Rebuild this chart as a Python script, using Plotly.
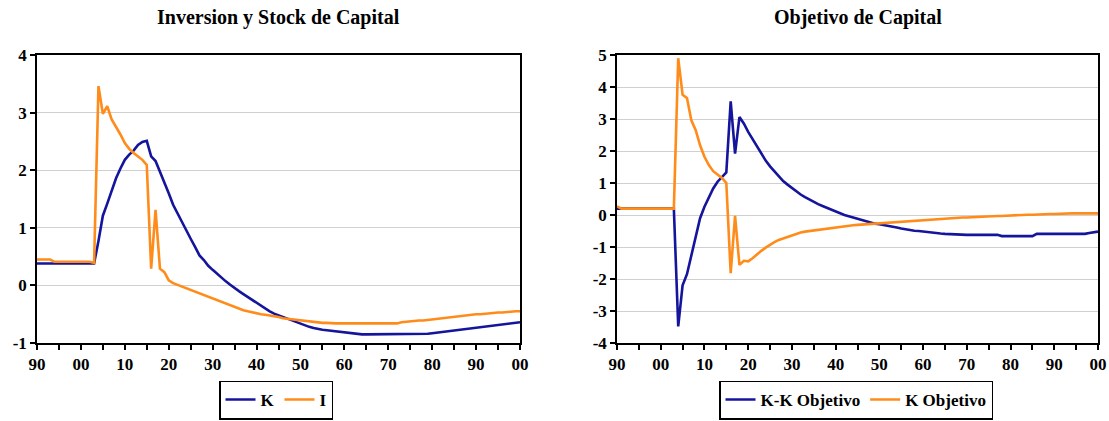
import plotly.graph_objects as go

years = list(range(1990, 2101))

# Left panel: Inversion y Stock de Capital
K = [0.38]*14 + [
    0.77, 1.21, 1.42, 1.66, 1.86, 2.03, 2.18, 2.27, 2.34, 2.44, 2.49,   # 2004-2014
    2.51, 2.24, 2.16, 1.98, 1.80, 1.60, 1.40, 1.25, 1.10, 0.94,         # 2015-2024
    0.81, 0.67, 0.52, 0.44, 0.34, 0.27, 0.20, 0.14, 0.07, 0.01,         # 2025-2034
    -0.05, -0.10, -0.15, -0.20, -0.26, -0.31, -0.35, -0.40, -0.45, -0.49,  # 2035-2044
    -0.52, -0.55, -0.58, -0.61, -0.64, -0.67, -0.70, -0.72, -0.74, -0.76,  # 2045-2054
    -0.77, -0.78, -0.79, -0.80, -0.81, -0.82, -0.83, -0.84,               # 2055-2062
] + [-0.85]*16 + [
    -0.84, -0.83, -0.82, -0.81, -0.80, -0.79, -0.78, -0.77, -0.77, -0.76,  # 2079-2088
    -0.75, -0.74, -0.73, -0.72, -0.71, -0.70, -0.69, -0.68, -0.67, -0.66,  # 2089-2098
    -0.65, -0.64,
]
I = [0.45]*4 + [0.41]*9 + [0.39] + [
    3.46, 2.98, 3.11, 2.88, 2.76, 2.62, 2.47, 2.37, 2.30, 2.24, 2.18,   # 2004-2014
    2.09, 0.29, 1.31, 0.29, 0.23, 0.09, 0.04, 0.01, -0.02, -0.05,       # 2015-2024
    -0.08, -0.11, -0.14, -0.17, -0.20, -0.23, -0.26, -0.29, -0.32, -0.35,  # 2025-2034
    -0.38, -0.40, -0.43, -0.45, -0.47, -0.49, -0.50, -0.51, -0.52, -0.54,  # 2035-2044
    -0.55, -0.57, -0.58, -0.59, -0.60, -0.61, -0.62, -0.63, -0.63, -0.64,  # 2045-2054
    -0.65, -0.65,                                                         # 2055-2056
] + [-0.66]*16 + [
    -0.64, -0.63, -0.63, -0.62, -0.61, -0.61, -0.60, -0.59, -0.58, -0.57,  # 2073-2082
    -0.56, -0.55, -0.54, -0.53, -0.52, -0.52, -0.51, -0.50, -0.50, -0.49,  # 2083-2092
    -0.48, -0.48, -0.47, -0.47, -0.46, -0.46, -0.45, -0.45,
]

# Right panel: Objetivo de Capital
KK_obj = [0.2]*14 + [
    -3.48, -2.20, -1.85, -1.25, -0.67, -0.10, 0.26, 0.57, 0.83, 1.04, 1.19,  # 2004-2014
    1.33, 3.55, 1.92, 3.06, 2.86, 2.60, 2.37, 2.13, 1.90, 1.70,             # 2015-2024
    1.52, 1.36, 1.20, 1.06, 0.95, 0.84, 0.74, 0.64, 0.56, 0.48,             # 2025-2034
    0.41, 0.34, 0.28, 0.22, 0.16, 0.10, 0.05, 0.00, -0.04, -0.08,           # 2035-2044
    -0.13, -0.17, -0.20, -0.24, -0.27, -0.29, -0.31, -0.34, -0.36, -0.39,   # 2045-2054
    -0.42, -0.45, -0.47, -0.49, -0.50, -0.52, -0.53, -0.55, -0.56, -0.58,   # 2055-2064
    -0.59, -0.60, -0.61,                                                    # 2065-2067
] + [-0.62]*10 + [-0.66]*8 + [-0.59]*12 + [-0.56, -0.54, -0.52]
K_obj = [0.27] + [0.2]*13 + [
    4.90, 3.76, 3.66, 2.96, 2.65, 2.18, 1.82, 1.56, 1.37, 1.25, 1.16,       # 2004-2014
    1.00, -1.82, -0.03, -1.56, -1.43, -1.45, -1.35, -1.22, -1.12, -1.02,    # 2015-2024
    -0.93, -0.85, -0.78, -0.73, -0.68, -0.63, -0.59, -0.55, -0.52, -0.50,   # 2025-2034
    -0.48, -0.46, -0.44, -0.42, -0.40, -0.38, -0.36, -0.35, -0.34, -0.32,   # 2035-2044
    -0.31, -0.30, -0.29, -0.28, -0.27, -0.26, -0.25, -0.23, -0.22, -0.21,   # 2045-2054
    -0.20, -0.19, -0.18, -0.17, -0.17, -0.16, -0.15, -0.14, -0.13, -0.12,   # 2055-2064
    -0.11, -0.11, -0.10, -0.09, -0.08, -0.08, -0.07, -0.06, -0.06, -0.05,   # 2065-2074
    -0.05, -0.04, -0.03, -0.03, -0.02, -0.01, -0.01, 0.00, 0.00, 0.01,      # 2075-2084
    0.01, 0.02, 0.02, 0.02, 0.03, 0.03, 0.04,                               # 2085-2091
] + [0.05]*9

x_tickvals = list(range(1990, 2101, 10))
x_ticktext = ["90", "00", "10", "20", "30", "40", "50", "60", "70", "80", "90", "00"]
left_yvals = [-1, 0, 1, 2, 3, 4]
left_ytext = ["-1", "0", "1", "2", "3", "4"]
right_yvals = [-4, -3, -2, -1, 0, 1, 2, 3, 4, 5]
right_ytext = ["-4", "-3", "-2", "-1", "0", "1", "2", "3", "4", "5"]

BLUE = "#14149c"
ORANGE = "#ff8c1a"
FONT = "Liberation Serif"
W, H = 1109, 421

fig = go.Figure()
fig.add_trace(go.Scatter(x=years, y=K, name="K", mode="lines",
                         line=dict(color=BLUE, width=2.6), xaxis="x", yaxis="y", legend="legend"))
fig.add_trace(go.Scatter(x=years, y=I, name="I", mode="lines",
                         line=dict(color=ORANGE, width=2.6), xaxis="x", yaxis="y", legend="legend"))
fig.add_trace(go.Scatter(x=years, y=KK_obj, name="K-K Objetivo", mode="lines",
                         line=dict(color=BLUE, width=2.6), xaxis="x2", yaxis="y2", legend="legend2"))
fig.add_trace(go.Scatter(x=years, y=K_obj, name="K Objetivo", mode="lines",
                         line=dict(color=ORANGE, width=2.6), xaxis="x2", yaxis="y2", legend="legend2"))

tickfont = dict(family=FONT, size=17, color="black", weight="bold")

def xaxis(domain, anchor):
    return dict(domain=domain, anchor=anchor, range=[1990, 2100], automargin=False,
                tickvals=x_tickvals, ticktext=x_ticktext, ticks="outside", ticklen=5,
                tickcolor="black", tickwidth=1.5,
                minor=dict(dtick=5, tick0=1990, ticks="outside", ticklen=5, tickcolor="black", tickwidth=1.5),
                showgrid=False, zeroline=False, showline=True, linecolor="black", linewidth=1.5,
                mirror=True, tickfont=tickfont, fixedrange=True)

def yaxis(domain, anchor, rng, vals, text):
    return dict(domain=domain, anchor=anchor, range=rng, tickvals=vals, ticktext=text,
                automargin=False,
                ticks="outside", ticklen=5, tickcolor="black", tickwidth=1.5,
                showgrid=True, gridcolor="#d0d0d0", gridwidth=1, zeroline=False,
                showline=True, linecolor="black", linewidth=1.5, mirror=True,
                tickfont=tickfont, fixedrange=True)

ydom = [(H - 343) / H, (H - 55) / H]
xdom1 = [37 / W, 520 / W]
xdom2 = [617 / W, 1098 / W]

legfont = dict(family=FONT, size=17, color="black", weight="bold")
titlefont = dict(family=FONT, size=20, color="black", weight="bold")
fig.update_layout(
    width=W, height=H,
    margin=dict(l=0, r=0, t=0, b=0, autoexpand=False),
    paper_bgcolor="white", plot_bgcolor="white",
    showlegend=True,
    xaxis=xaxis(xdom1, "y"),
    yaxis=yaxis(ydom, "x", [-1, 4], left_yvals, left_ytext),
    xaxis2=xaxis(xdom2, "y2"),
    yaxis2=yaxis(ydom, "x2", [-4, 5], right_yvals, right_ytext),
    legend=dict(orientation="h", x=(213 + 339) / 2 / W, xanchor="center",
                y=1.5 / H, yanchor="bottom", bordercolor="black", borderwidth=1.5,
                bgcolor="white", font=legfont, itemwidth=30, tracegroupgap=0),
    legend2=dict(orientation="h", x=(700 + 1012) / 2 / W, xanchor="center",
                 y=1.5 / H, yanchor="bottom", bordercolor="black", borderwidth=1.5,
                 bgcolor="white", font=legfont, itemwidth=30, tracegroupgap=0),
    annotations=[
        dict(text="Inversion y Stock de Capital", x=(xdom1[0] + xdom1[1]) / 2, xref="paper",
             y=(H - 17) / H, yref="paper", xanchor="center", yanchor="middle", showarrow=False,
             font=titlefont),
        dict(text="Objetivo de Capital", x=(xdom2[0] + xdom2[1]) / 2, xref="paper",
             y=(H - 17) / H, yref="paper", xanchor="center", yanchor="middle", showarrow=False,
             font=titlefont),
    ],
)

fig.write_html("out.html", config={"displayModeBar": False},
               post_script="document.body.style.margin='0';document.body.style.overflow='hidden';")
